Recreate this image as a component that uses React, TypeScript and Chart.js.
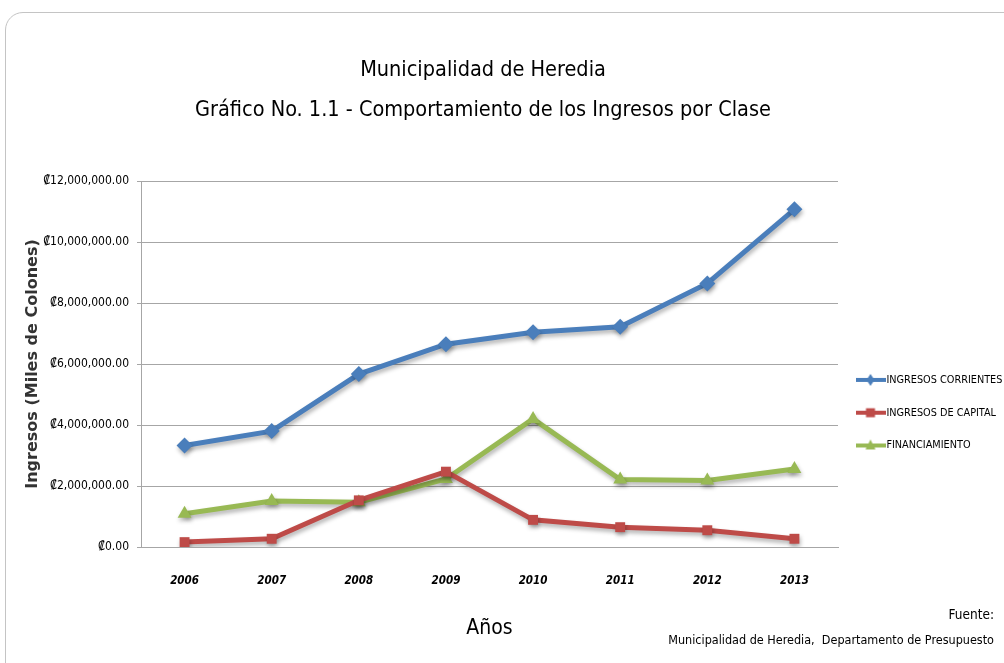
import React, { useEffect, useRef } from 'react';
import { Chart, registerables } from 'chart.js';

Chart.register(...registerables);

const years = ['2006', '2007', '2008', '2009', '2010', '2011', '2012', '2013'];
const ingresosCorrientes = [3330000, 3800000, 5670000, 6650000, 7040000, 7220000, 8640000, 11070000];
const ingresosCapital = [160000, 270000, 1530000, 2470000, 890000, 650000, 550000, 270000];
const financiamiento = [1090000, 1510000, 1470000, 2230000, 4200000, 2210000, 2180000, 2560000];
const seriesNames = ['INGRESOS CORRIENTES', 'INGRESOS DE CAPITAL', 'FINANCIAMIENTO'];
const titleLines = ['Municipalidad de Heredia', 'Gráfico No. 1.1 - Comportamiento de los Ingresos por Clase'];
const sourceLines = ['Fuente:', 'Municipalidad de Heredia,  Departamento de Presupuesto'];
const yAxisTitle = 'Ingresos (Miles de Colones)';
const xAxisTitle = 'Años';

const NARROW = '"Liberation Sans Narrow", "Arial Narrow", "DejaVu Sans Condensed", sans-serif';
const colors = ['#4A7EBB', '#BE4B48', '#98B954'];
const markers = ['rectRot', 'rect', 'triangle'];

const formatColon = (v: number) =>
  '₡' + Number(v).toLocaleString('en-US', { minimumFractionDigits: 2, maximumFractionDigits: 2 });

function makeIcon(color: string, style: string): HTMLCanvasElement {
  const c = document.createElement('canvas');
  c.width = 30;
  c.height = 16;
  const ctx = c.getContext('2d')!;
  ctx.strokeStyle = color;
  ctx.lineWidth = 4;
  ctx.beginPath();
  ctx.moveTo(0, 8);
  ctx.lineTo(30, 8);
  ctx.stroke();
  ctx.fillStyle = color;
  ctx.beginPath();
  if (style === 'rectRot') {
    ctx.moveTo(15, 2);
    ctx.lineTo(19, 8);
    ctx.lineTo(15, 14);
    ctx.lineTo(11, 8);
  } else if (style === 'rect') {
    ctx.rect(10.5, 3.5, 9, 9);
  } else {
    ctx.moveTo(15, 2);
    ctx.lineTo(20, 12);
    ctx.lineTo(10, 12);
  }
  ctx.closePath();
  ctx.fill();
  return c;
}

const extrasPlugin = {
  id: 'extras',
  beforeDatasetsDraw(chart: any) {
    const ctx = chart.ctx;
    ctx.save();
    ctx.shadowColor = 'rgba(0,0,0,0.3)';
    ctx.shadowBlur = 4;
    ctx.shadowOffsetX = 1;
    ctx.shadowOffsetY = 3;
  },
  afterDatasetsDraw(chart: any) {
    chart.ctx.restore();
  },
  afterDraw(chart: any) {
    const ctx = chart.ctx;
    ctx.save();
    ctx.fillStyle = '#000';
    ctx.textAlign = 'right';
    ctx.textBaseline = 'middle';
    ctx.font = `13.5px ${NARROW}`;
    ctx.fillText(sourceLines[0], 994, 615);
    ctx.font = `12.5px ${NARROW}`;
    ctx.fillText(sourceLines[1], 994, 641);
    ctx.restore();
  },
};

export default function App() {
  const ref = useRef<HTMLCanvasElement>(null);

  useEffect(() => {
    if (!ref.current) return;
    const icons = colors.map((c, i) => makeIcon(c, markers[i]));
    const values = [ingresosCorrientes, ingresosCapital, financiamiento];
    const chart = new Chart(ref.current, {
      type: 'line',
      data: {
        labels: years,
        datasets: values.map((d, i) => ({
          label: seriesNames[i],
          data: d,
          borderColor: colors[i],
          backgroundColor: colors[i],
          borderWidth: 5,
          pointStyle: markers[i] as any,
          pointRadius: i === 1 ? 7 : 8,
          pointBorderWidth: 0,
          pointBackgroundColor: colors[i],
          tension: 0,
        })),
      },
      plugins: [extrasPlugin],
      options: {
        responsive: false,
        animation: false,
        devicePixelRatio: 1,
        layout: { padding: { left: -38, right: 0, top: 0, bottom: 5 } },
        plugins: {
          title: {
            display: true,
            text: titleLines,
            color: '#000',
            font: { family: NARROW, size: 21.5, weight: 'normal', lineHeight: '40px' } as any,
            padding: { top: 50, bottom: 51 },
          },
          legend: {
            display: true,
            position: 'right',
            align: 'start',
            fullSize: false,
            maxWidth: 166,
            title: { display: true, text: ' ', font: { size: 10 }, padding: { top: 159.5, bottom: 0 } },
            labels: {
              usePointStyle: true,
              pointStyleWidth: 21,
              padding: 22,
              color: '#000',
              font: { family: NARROW, size: 10.8 },
              generateLabels: (ch: any) =>
                ch.data.datasets.map((ds: any, i: number) => ({
                  text: ds.label,
                  pointStyle: icons[i],
                  fillStyle: 'transparent',
                  strokeStyle: 'transparent',
                  lineWidth: 0,
                  fontColor: '#000',
                  hidden: false,
                  datasetIndex: i,
                })),
            },
          },
          tooltip: { enabled: false },
        },
        scales: {
          x: {
            offset: true,
            grid: { display: false, drawTicks: false },
            border: { display: true, color: '#A6A6A6' },
            ticks: {
              color: '#000',
              padding: 27,
              font: { family: NARROW, size: 11.5, style: 'italic', weight: 'bold' },
            },
            title: {
              display: true,
              text: xAxisTitle,
              color: '#000',
              font: { family: NARROW, size: 21 },
              padding: { top: 0, bottom: 17 },
            },
            afterFit: (s: any) => {
              s.height = 111;
            },
          },
          y: {
            min: 0,
            max: 12000000,
            ticks: {
              stepSize: 2000000,
              color: '#000',
              padding: 8,
              font: { family: NARROW, size: 12 },
              callback: (v: any) => formatColon(v),
            },
            grid: { color: '#A6A6A6', lineWidth: 1, tickLength: 4, drawTicks: true },
            border: { color: '#A6A6A6' },
            title: {
              display: true,
              text: yAxisTitle,
              color: '#333',
              font: { family: '"DejaVu Sans", Verdana, sans-serif', size: 16, weight: 'bold' },
              padding: { top: 61, bottom: 0 },
            },
            afterFit: (s: any) => {
              s.width = 179;
            },
          },
        },
      } as any,
    });
    return () => chart.destroy();
  }, []);

  return (
    <div
      style={{
        position: 'absolute',
        left: 0,
        top: 0,
        width: 1004,
        height: 663,
        overflow: 'hidden',
        background: '#fff',
      }}
    >
      <div
        style={{
          position: 'absolute',
          left: 5,
          top: 12,
          width: 1040,
          height: 700,
          border: '1px solid #C4C4C4',
          borderRadius: 18,
          boxSizing: 'border-box',
        }}
      />
      <canvas
        ref={ref}
        width={1004}
        height={663}
        style={{ position: 'absolute', left: 0, top: 0, display: 'block' }}
      />
    </div>
  );
}
